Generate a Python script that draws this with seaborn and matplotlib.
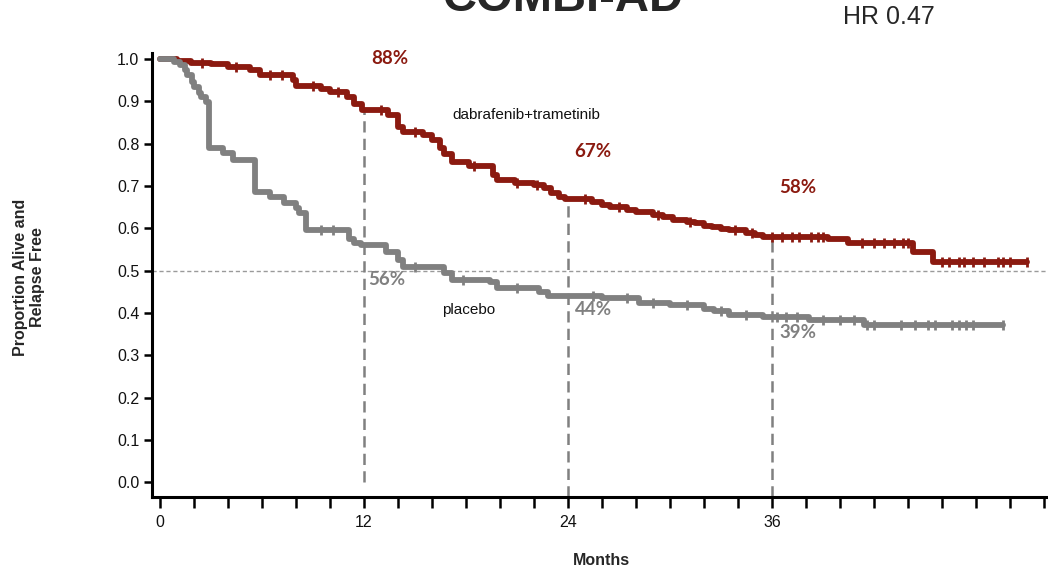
import numpy as np
import pandas as pd
import matplotlib
matplotlib.use("Agg")
import matplotlib.pyplot as plt
from matplotlib.ticker import FixedLocator, FuncFormatter
import seaborn as sns

# Kaplan-Meier step points (months, proportion alive and relapse free)
combo_months = [0, 1.0, 1.8, 3.0, 4.0, 5.3, 5.9, 7.8, 8.0, 9.5, 10.0, 11.0, 11.4, 11.9, 13.4,
                14.0, 14.3, 15.5, 16.0, 16.5, 16.7, 17.2, 18.2, 19.6, 19.8, 20.9, 22.0, 22.6,
                23.0, 23.5, 23.8, 25.4, 26.0, 26.5, 27.5, 28.0, 29.0, 29.6, 30.2, 31.0, 31.5,
                32.0, 32.5, 33.0, 33.5, 34.5, 35.0, 35.5, 39.3, 40.5, 44.3, 45.5, 51.0]
combo_surv = [1.0, 0.995, 0.99, 0.988, 0.982, 0.975, 0.962, 0.95, 0.936, 0.93, 0.922, 0.91,
              0.893, 0.88, 0.868, 0.84, 0.827, 0.82, 0.81, 0.79, 0.775, 0.757, 0.748, 0.725,
              0.714, 0.708, 0.703, 0.695, 0.683, 0.675, 0.67, 0.662, 0.655, 0.65, 0.643,
              0.638, 0.632, 0.627, 0.619, 0.615, 0.612, 0.606, 0.603, 0.599, 0.596, 0.589,
              0.584, 0.58, 0.574, 0.565, 0.544, 0.52, 0.52]

placebo_months = [0, 0.8, 1.2, 1.5, 1.6, 1.9, 2.0, 2.3, 2.4, 2.7, 2.9, 3.7, 4.3, 5.6, 6.5,
                  7.3, 8.0, 8.2, 8.6, 11.1, 11.4, 11.8, 13.3, 14.0, 14.3, 16.7, 17.2, 19.4,
                  19.8, 22.3, 22.8, 26.0, 28.2, 30.0, 32.0, 32.6, 33.5, 35.5, 38.2, 41.4, 49.6]
placebo_surv = [1.0, 0.993, 0.986, 0.975, 0.962, 0.945, 0.934, 0.92, 0.91, 0.898, 0.79,
                0.778, 0.761, 0.686, 0.674, 0.66, 0.648, 0.636, 0.596, 0.575, 0.565, 0.56,
                0.544, 0.525, 0.508, 0.494, 0.478, 0.473, 0.459, 0.449, 0.44, 0.435, 0.423,
                0.418, 0.41, 0.405, 0.395, 0.39, 0.383, 0.372, 0.372]

# Censoring times (tick marks on the curves)
combo_censor = [2.5, 4.5, 6.5, 7.2, 9.0, 10.5, 13.0, 15.0, 18.5, 21.0, 22.2, 25.0, 27.0,
                29.3, 31.2, 33.8, 34.8, 36.0, 36.6, 37.2, 37.6, 38.3, 38.7, 39.0, 41.3, 42.0,
                42.6, 43.2, 43.7, 44.0, 46.0, 46.4, 47.0, 47.3, 47.8, 48.5, 49.3, 49.6, 50.0,
                51.0]
placebo_censor = [9.5, 10.2, 15.0, 17.8, 21.0, 25.5, 27.5, 29.0, 31.0, 33.0, 34.5, 36.3,
                  36.8, 37.5, 39.0, 40.0, 40.8, 41.6, 42.0, 43.6, 44.4, 45.2, 45.6, 46.6,
                  47.0, 47.4, 47.8, 49.6]

arm_names = ["dabrafenib+trametinib", "placebo"]
arm_colors = {"dabrafenib+trametinib": "#8B1A10", "placebo": "#808080"}

# Landmark estimates shown on the chart
landmarks = [12, 24, 36]
combo_landmark = [0.88, 0.67, 0.58]
placebo_landmark = [0.56, 0.44, 0.39]

x_tick_labels = {0: "0", 12: "12", 24: "24", 36: "36"}


def step_value(times, surv, t):
    idx = np.searchsorted(times, t, side="right") - 1
    return np.asarray(surv)[idx]


curves = pd.concat([
    pd.DataFrame({"month": combo_months, "surv": combo_surv, "arm": arm_names[0]}),
    pd.DataFrame({"month": placebo_months, "surv": placebo_surv, "arm": arm_names[1]}),
])
censors = pd.concat([
    pd.DataFrame({"month": combo_censor,
                  "surv": step_value(combo_months, combo_surv, combo_censor),
                  "arm": arm_names[0]}),
    pd.DataFrame({"month": placebo_censor,
                  "surv": step_value(placebo_months, placebo_surv, placebo_censor),
                  "arm": arm_names[1]}),
])

sns.set_theme(style="ticks")
plt.rcParams["font.family"] = ["Liberation Sans", "DejaVu Sans"]

fig = plt.figure(figsize=(10.48, 5.72), dpi=100)
ax = fig.add_axes([0.145, 0.131, 0.855, 0.776])

ax.set_xlim(-0.47, 52.24)
ax.set_ylim(-0.035, 1.014)

# reference lines
ax.axhline(0.5, color="#9a9a9a", lw=1.0, ls=(0, (3, 2)), zorder=1)
for m, v in zip(landmarks, combo_landmark):
    bottom = 0.0 if m == 12 else -0.035
    ax.plot([m, m], [bottom, v], color="#808080", lw=1.8, ls=(0, (4.5, 2.5)), zorder=1)

sns.lineplot(data=curves, x="month", y="surv", hue="arm", palette=arm_colors,
             drawstyle="steps-post", estimator=None, lw=4.2, legend=False, ax=ax, zorder=3)
sns.scatterplot(data=censors, x="month", y="surv", hue="arm", palette=arm_colors,
                marker="|", s=50, linewidth=2.0, legend=False, ax=ax, zorder=4)

# landmark percentages
pct_font = dict(family=["Lato", "DejaVu Sans"], fontweight="bold", fontsize=13.5)
combo_pos = [(13.53, 0.988), (25.47, 0.768), (37.53, 0.683)]
for (x, y), v in zip(combo_pos, combo_landmark):
    ax.text(x, y, f"{round(v * 100)}%", color=arm_colors[arm_names[0]], ha="center",
            va="baseline", **pct_font)
placebo_pos = [(12.24, 0.466), (24.4, 0.395), (36.47, 0.34)]
for (x, y), v in zip(placebo_pos, placebo_landmark):
    ax.text(x, y, f"{round(v * 100)}%", color=arm_colors[arm_names[1]], ha="left",
            va="baseline", **pct_font)

ax.text(17.18, 0.858, arm_names[0], fontsize=11, color="#111111", va="baseline")
ax.text(16.59, 0.397, arm_names[1], fontsize=11, color="#111111", va="baseline")

# axes styling
sns.despine(ax=ax)
for side in ("left", "bottom"):
    ax.spines[side].set_linewidth(2.2)
    ax.spines[side].set_color("black")
ax.set_yticks(np.round(np.arange(0, 1.01, 0.1), 1))
ax.yaxis.set_major_formatter(FuncFormatter(lambda v, p: f"{v:.1f}"))
ax.xaxis.set_major_locator(FixedLocator(np.arange(0, 53, 2)))
ax.xaxis.set_major_formatter(FuncFormatter(lambda v, p: x_tick_labels.get(int(round(v)), "")))
ax.tick_params(axis="y", length=6, width=1.8, pad=3, labelsize=11.5, color="black",
               labelcolor="#111111")
ax.tick_params(axis="x", length=8, width=1.8, pad=5, labelsize=11.5, color="black",
               labelcolor="#111111")
ax.set_xlabel("")
ax.set_ylabel("")

fig.text(29 / 1048, 1 - 277 / 572, "Proportion Alive and\nRelapse Free", rotation=90,
         ha="center", va="center", fontsize=11.5, fontweight="bold", linespacing=1.1)
fig.text(601.5 / 1048, 1 - 565 / 572, "Months", ha="center", va="baseline",
         fontsize=11.5, fontweight="bold")
fig.text(563 / 1048, 1 - 11 / 572, "COMBI-AD", ha="center", va="baseline",
         fontsize=34, fontweight="bold")
fig.text(843 / 1048, 1 - 24 / 572, "HR 0.47", ha="left", va="baseline", fontsize=18)

fig.savefig("out.png", dpi=100)
